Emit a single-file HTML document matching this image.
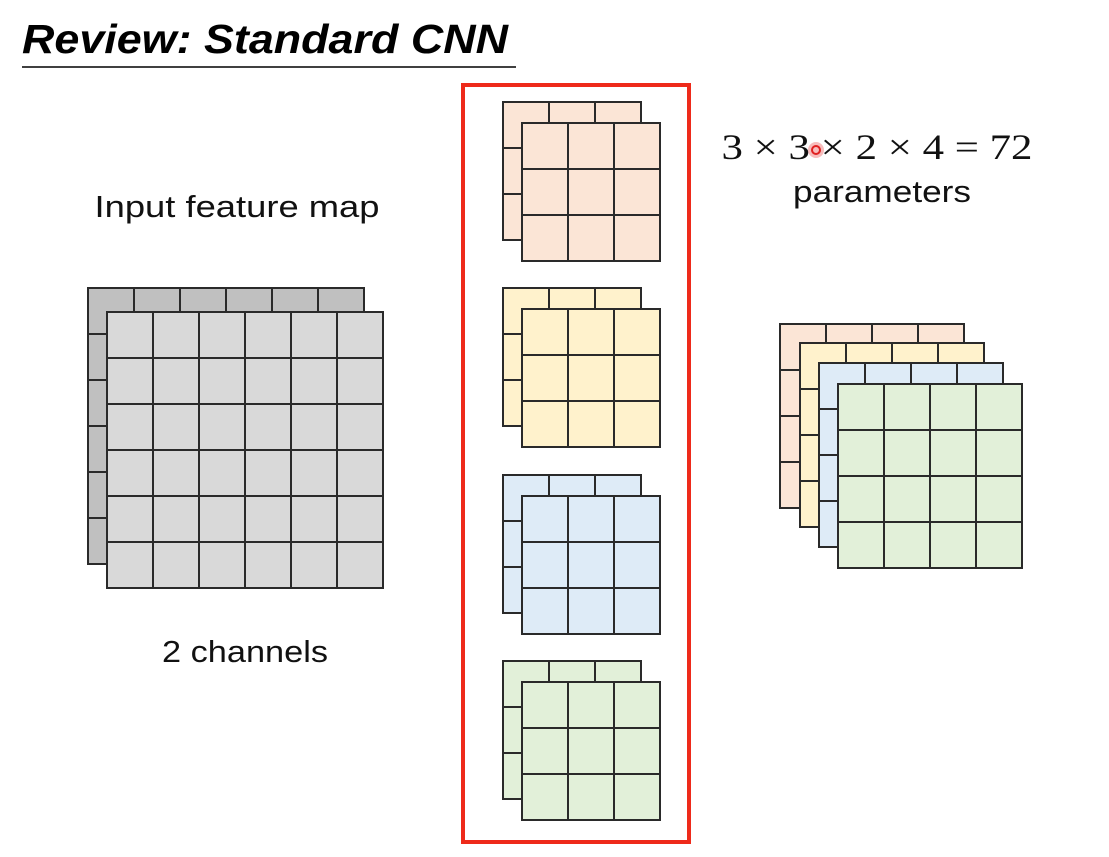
<!DOCTYPE html>
<html><head><meta charset="utf-8"><style>
html,body{margin:0;padding:0;background:#fff;width:1109px;height:857px;overflow:hidden}
svg{display:block}
</style></head><body>
<svg width="1109" height="857" viewBox="0 0 1109 857" xmlns="http://www.w3.org/2000/svg">
<defs>
<pattern id="g" x="0" y="0" width="46" height="46" patternUnits="userSpaceOnUse">
<path d="M0 1H46M1 0V46" stroke="#2a2a2a" stroke-width="2" fill="none"/>
</pattern>
</defs>
<text x="22" y="53" font-family="Liberation Sans, sans-serif" font-size="41" font-weight="bold" font-style="italic" fill="#000" textLength="486" lengthAdjust="spacingAndGlyphs">Review: Standard CNN</text>
<line x1="22" y1="67" x2="516" y2="67" stroke="#000" stroke-width="1.5"/>

<svg x="87" y="287" width="280" height="282"><rect x="1" y="1" width="276" height="276" fill="#c0c0c0"/><rect x="0" y="0" width="277" height="277" fill="url(#g)"/><rect x="1" y="1" width="276" height="276" fill="none" stroke="#2a2a2a" stroke-width="2"/></svg>
<svg x="106" y="311" width="280" height="284"><rect x="1" y="1" width="276" height="276" fill="#d9d9d9"/><rect x="0" y="0" width="277" height="277" fill="url(#g)"/><rect x="1" y="1" width="276" height="276" fill="none" stroke="#2a2a2a" stroke-width="2"/></svg>

<text x="237" y="217" text-anchor="middle" font-family="Liberation Sans, sans-serif" font-size="31" fill="#111" textLength="285" lengthAdjust="spacingAndGlyphs">Input feature map</text>
<text x="245" y="662" text-anchor="middle" font-family="Liberation Sans, sans-serif" font-size="31" fill="#111" textLength="166" lengthAdjust="spacingAndGlyphs">2 channels</text>

<rect x="463" y="85" width="226" height="757" fill="none" stroke="#ee2a1a" stroke-width="4"/>

<svg x="502" y="101" width="142" height="142"><rect x="1" y="1" width="138" height="138" fill="#fbe5d6"/><rect width="139" height="139" fill="url(#g)"/><rect x="1" y="1" width="138" height="138" fill="none" stroke="#2a2a2a" stroke-width="2"/></svg>
<svg x="521" y="122" width="142" height="144"><rect x="1" y="1" width="138" height="138" fill="#fbe5d6"/><rect width="139" height="139" fill="url(#g)"/><rect x="1" y="1" width="138" height="138" fill="none" stroke="#2a2a2a" stroke-width="2"/></svg>

<svg x="502" y="287" width="142" height="142"><rect x="1" y="1" width="138" height="138" fill="#fff2cc"/><rect width="139" height="139" fill="url(#g)"/><rect x="1" y="1" width="138" height="138" fill="none" stroke="#2a2a2a" stroke-width="2"/></svg>
<svg x="521" y="308" width="142" height="144"><rect x="1" y="1" width="138" height="138" fill="#fff2cc"/><rect width="139" height="139" fill="url(#g)"/><rect x="1" y="1" width="138" height="138" fill="none" stroke="#2a2a2a" stroke-width="2"/></svg>

<svg x="502" y="474" width="142" height="142"><rect x="1" y="1" width="138" height="138" fill="#deebf7"/><rect width="139" height="139" fill="url(#g)"/><rect x="1" y="1" width="138" height="138" fill="none" stroke="#2a2a2a" stroke-width="2"/></svg>
<svg x="521" y="495" width="142" height="144"><rect x="1" y="1" width="138" height="138" fill="#deebf7"/><rect width="139" height="139" fill="url(#g)"/><rect x="1" y="1" width="138" height="138" fill="none" stroke="#2a2a2a" stroke-width="2"/></svg>

<svg x="502" y="660" width="142" height="142"><rect x="1" y="1" width="138" height="138" fill="#e2f0d9"/><rect width="139" height="139" fill="url(#g)"/><rect x="1" y="1" width="138" height="138" fill="none" stroke="#2a2a2a" stroke-width="2"/></svg>
<svg x="521" y="681" width="142" height="144"><rect x="1" y="1" width="138" height="138" fill="#e2f0d9"/><rect width="139" height="139" fill="url(#g)"/><rect x="1" y="1" width="138" height="138" fill="none" stroke="#2a2a2a" stroke-width="2"/></svg>

<svg x="779" y="323" width="188" height="190"><rect x="1" y="1" width="184" height="184" fill="#fbe5d6"/><rect width="185" height="185" fill="url(#g)"/><rect x="1" y="1" width="184" height="184" fill="none" stroke="#2a2a2a" stroke-width="2"/></svg>
<svg x="799" y="342" width="188" height="190"><rect x="1" y="1" width="184" height="184" fill="#fff2cc"/><rect width="185" height="185" fill="url(#g)"/><rect x="1" y="1" width="184" height="184" fill="none" stroke="#2a2a2a" stroke-width="2"/></svg>
<svg x="818" y="362" width="188" height="190"><rect x="1" y="1" width="184" height="184" fill="#deebf7"/><rect width="185" height="185" fill="url(#g)"/><rect x="1" y="1" width="184" height="184" fill="none" stroke="#2a2a2a" stroke-width="2"/></svg>
<svg x="837" y="383" width="188" height="190"><rect x="1" y="1" width="184" height="184" fill="#e2f0d9"/><rect width="185" height="185" fill="url(#g)"/><rect x="1" y="1" width="184" height="184" fill="none" stroke="#2a2a2a" stroke-width="2"/></svg>

<text x="877" y="159" text-anchor="middle" font-family="Liberation Serif, serif" font-size="36" fill="#111" textLength="311" lengthAdjust="spacingAndGlyphs">3 × 3 × 2 × 4 = 72</text>
<text x="882" y="202" text-anchor="middle" font-family="Liberation Sans, sans-serif" font-size="31" fill="#111" textLength="178" lengthAdjust="spacingAndGlyphs">parameters</text>
<circle cx="816" cy="150" r="8" fill="#f4a0a0" opacity="0.7"/>
<circle cx="816" cy="150" r="4" fill="none" stroke="#e02020" stroke-width="2"/>
</svg>
</body></html>
